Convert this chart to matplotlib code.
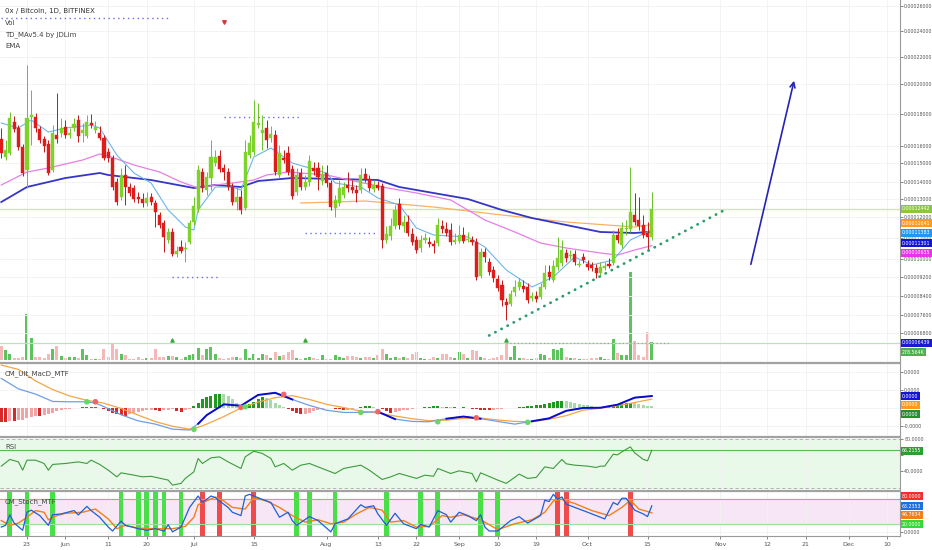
import numpy as np
import pandas as pd
import matplotlib
matplotlib.use("Agg")
import matplotlib.pyplot as plt
from matplotlib.lines import Line2D
from matplotlib import font_manager

# --- data: daily candles 0x/BTC (prices in satoshi, 1e-8 BTC) ---
START = pd.Timestamp("2018-05-17")

opens = [16438, 15353, 15588, 17500, 17125, 15941, 14632, 17812, 17812, 17062,
         16437, 16125, 14632, 16687, 16812, 17187, 16687, 17125, 17625, 16812,
         16625, 17437, 17000, 16812, 16500, 15647, 15294, 14000, 13118, 14368,
         13706, 13647, 13118, 13000, 12778, 13118, 12778, 12111, 11714, 10905,
         11286, 10238, 10571, 10476, 10810, 11762, 12444, 14526, 13530, 14210,
         15000, 15412, 14737, 14526, 13706, 12833, 13118, 12500, 15470, 15647,
         17312, 16812, 17125, 16500, 16687, 14368, 15294, 15588, 14684, 13412,
         14474, 13706, 14000, 14737, 14737, 14053, 14474, 13941, 12500, 12778,
         13235, 13824, 13706, 13530, 13530, 14421, 14158, 13588, 13824, 13765,
         10905, 11095, 11571, 12722, 11571, 11762, 11190, 10905, 10524, 10905,
         10810, 10714, 10762, 11571, 11429, 11381, 10810, 10857, 11143, 10905,
         10905, 10810, 9244, 10333, 9867, 9511, 9116, 8863, 8147, 8063,
         8568, 8779, 8821, 8779, 8316, 8400, 8358, 8779, 9422, 9074,
         9644, 9822, 10286, 10143, 10238, 9733, 10095, 9778, 9733, 9600,
         9378, 9600, 9778, 9822, 11143, 10667, 11429, 11429, 12111, 11857,
         11619, 11238, 11048]
highs = [17125, 16375, 18132, 17875, 17312, 16125, 21406, 19600, 18066, 17250,
         16625, 16375, 17312, 19400, 17750, 17625, 17125, 17750, 17937, 17437,
         17937, 18000, 17562, 17250, 16687, 15882, 15470, 14210, 14737, 14895,
         13941, 13824, 13412, 13353, 13412, 13353, 12944, 12278, 11857, 11476,
         11476, 10619, 10905, 10810, 11857, 13118, 14895, 14737, 14526, 16375,
         15765, 15765, 14947, 14737, 13941, 13706, 13530, 16375, 16687, 18930,
         18730, 17937, 17625, 17250, 17000, 16062, 15765, 16000, 14895, 14737,
         14737, 14368, 15470, 15059, 15059, 14895, 14895, 14105, 13235, 14105,
         14000, 14526, 14105, 13824, 14737, 14737, 14368, 14105, 14053, 13941,
         11571, 11952, 12667, 13059, 12111, 12111, 11476, 11095, 11143, 11238,
         11048, 10905, 11952, 11857, 11762, 11714, 11238, 11619, 11524, 11286,
         11095, 11000, 10524, 10524, 10048, 9689, 9289, 9074, 8316, 8653,
         9074, 9158, 9074, 8947, 8568, 8611, 8947, 9733, 9733, 9956,
         11048, 10905, 10476, 10429, 10429, 9956, 10286, 9956, 9867, 9778,
         9867, 9867, 10048, 11381, 11476, 11762, 11857, 14789, 13353, 13118,
         12111, 11762, 13412]
lows = [15294, 15176, 15470, 16875, 15765, 14316, 13647, 16062, 16875, 16187,
        15647, 14368, 14526, 16187, 16562, 16500, 16500, 16937, 16250, 16250,
        16500, 17125, 16812, 16375, 15176, 15059, 13530, 12667, 12944, 12667,
        13176, 12833, 12778, 12555, 12611, 12667, 11524, 11476, 10333, 10762,
        10143, 10095, 10286, 9867, 10714, 11619, 12278, 13412, 13235, 13530,
        14842, 14526, 14105, 13530, 12667, 12389, 12166, 12389, 15294, 15470,
        17125, 15765, 15882, 16250, 14368, 14210, 15000, 14368, 13000, 13235,
        13530, 13530, 13765, 14368, 13530, 13824, 13706, 12389, 12000, 12611,
        13059, 13412, 13353, 12833, 13353, 14000, 13471, 13412, 13530, 10524,
        10762, 10905, 11429, 11429, 11286, 11095, 10667, 10286, 10333, 10762,
        10571, 10286, 10619, 11238, 11095, 10667, 10714, 10762, 10762, 10810,
        10667, 9074, 9158, 9867, 9289, 8989, 8611, 7979, 7378, 7979,
        8400, 8653, 8568, 8105, 8189, 8147, 8274, 8695, 9074, 8989,
        9511, 9689, 9867, 10000, 9733, 9644, 9822, 9511, 9467, 9158,
        9244, 9511, 9600, 9733, 10762, 10524, 11143, 11286, 11619, 11381,
        11000, 10429, 10905]
closes = [15588, 15765, 17750, 17062, 15941, 14474, 17750, 17937, 17125, 16375,
          16000, 14474, 16812, 16437, 17125, 16687, 16812, 17375, 16625, 17000,
          17500, 17312, 17187, 16500, 15294, 15294, 13706, 12833, 14368, 13706,
          13353, 13000, 13000, 12778, 13059, 12833, 12278, 11619, 11048, 11286,
          10238, 10381, 10381, 10524, 11714, 12611, 14632, 13647, 14263, 15353,
          15353, 14684, 14526, 13706, 12833, 13118, 12389, 15647, 16187, 17500,
          17437, 17000, 16375, 16750, 14526, 15588, 15176, 14526, 13176, 14368,
          13706, 14000, 15118, 14579, 14263, 14421, 13941, 12555, 12944, 13647,
          13706, 13647, 13530, 13353, 14368, 14158, 13647, 13824, 13647, 10905,
          11190, 11571, 12389, 11619, 11762, 11238, 10810, 10429, 10905, 11000,
          10714, 10619, 11619, 11429, 11238, 10810, 10905, 11143, 10857, 10952,
          10810, 9200, 10333, 10095, 9422, 9158, 8737, 8232, 8021, 8484,
          8779, 8989, 8695, 8232, 8400, 8274, 8779, 9378, 9200, 9689,
          10048, 10429, 10048, 10190, 9867, 9778, 9956, 9644, 9600, 9378,
          9644, 9689, 9689, 11143, 10905, 11476, 11476, 12278, 11762, 11571,
          11143, 11048, 12442]
volumes_k = [225, 150, 100, 25, 25, 40, 725, 350, 50, 40,
             25, 100, 175, 225, 60, 25, 50, 40, 25, 175,
             75, 15, 15, 10, 175, 40, 275, 175, 100, 75,
             15, 10, 40, 15, 25, 25, 175, 50, 50, 60,
             60, 50, 15, 50, 75, 100, 190, 75, 175, 200,
             100, 25, 15, 25, 40, 50, 25, 175, 25, 90,
             25, 90, 75, 25, 125, 60, 75, 125, 150, 25,
             15, 25, 50, 25, 10, 75, 15, 15, 75, 50,
             25, 60, 60, 50, 25, 50, 40, 25, 75, 175,
             100, 25, 50, 25, 40, 25, 100, 125, 25, 15,
             15, 50, 25, 90, 90, 50, 25, 125, 100, 25,
             150, 140, 50, 25, 15, 25, 40, 75, 250, 50,
             225, 25, 25, 15, 15, 25, 100, 75, 25, 175,
             150, 190, 50, 25, 25, 15, 10, 10, 25, 25,
             40, 15, 15, 335, 110, 85, 75, 1392, 300, 75,
             40, 450, 279]

# moving averages (day index, satoshi)
ema_fast_days = [0, 4, 7, 11, 15, 21, 23, 27, 31, 35, 39, 43, 45, 46, 50, 54, 56, 59, 63, 66,
                 68, 76, 78, 84, 88, 93, 97, 101, 109, 113, 118, 124, 129, 134, 138, 143, 147, 152]
ema_fast = [17437, 17125, 17625, 16875, 17125, 17312, 17125, 15470, 14474, 13941, 12389, 11524,
            11381, 12389, 13706, 13706, 13530, 15353, 15882, 15353, 15000, 14474, 13941, 13706,
            13059, 12667, 11476, 11143, 11048, 10571, 9511, 8779, 9200, 10095, 9733, 9956, 10905, 11383]
ema_mid_days = [0, 6, 11, 19, 23, 25, 31, 37, 42, 46, 50, 54, 59, 62, 67, 76, 89, 97, 105, 113,
                120, 126, 132, 140, 144, 148, 152]
ema_mid = [13824, 14526, 14737, 15176, 15530, 15412, 14895, 14526, 14000, 13647, 13824, 13941,
           14105, 14368, 14526, 14368, 13706, 13353, 12944, 11857, 11286, 10762, 10524, 10286,
           10190, 10429, 10635]
ema_slow_days = [0, 6, 11, 15, 23, 25, 35, 45, 50, 56, 60, 68, 78, 88, 93, 101, 109, 117, 124,
                 132, 140, 148, 152]
ema_slow = [12833, 13706, 14000, 14210, 14474, 14368, 14105, 13647, 13824, 13706, 14053, 14210,
            14158, 14105, 13706, 13353, 13000, 12389, 11952, 11619, 11286, 11238, 11301]
ema_long_days = [70, 78, 85, 101, 117, 132, 148, 152]
ema_long = [12778, 12833, 12889, 12555, 12111, 11762, 11524, 11641]

last_price = 12442
support_level = 6439
td_levels = [(0, 39, 25040), (52, 70, 17812), (71, 88, 11238), (40, 51, 9200)]
trend_days = [114, 169]
trend_prices = [6710, 12389]
arrow_days = [175, 185.4]
arrow_prices = [9644, 20444]

# MACD (units of 1e-7 BTC)
macd_days = [0, 4, 8, 12, 16, 20, 22, 24, 28, 32, 36, 40, 44, 46, 48, 52, 56, 60, 64, 68, 72,
             76, 80, 84, 88, 92, 96, 100, 104, 108, 112, 116, 120, 124, 128, 132, 136, 140, 144, 148, 152]
macd_line = [162, 104, 75, 34, 32, 32, 25, 5, -40, -74, -92, -120, -125, -90, -42, 18, 10, 70, 82,
             45, 12, -15, -27, -27, -23, -64, -77, -79, -62, -50, -62, -77, -92, -76, -60, -18, -2,
             -1, 16, 55, 64]
macd_signal = [236, 212, 148, 100, 64, 40, 33, 24, -5, -42, -78, -104, -120, -110, -92, -50, -2,
               30, 55, 66, 45, 18, 0, -20, -30, -47, -62, -73, -70, -60, -58, -69, -77, -79, -65,
               -45, -14, -4, 10, 28, 47]
macd_hist = [-78, -78, -74, -74, -70, -67, -56, -52, -46, -46, -41, -37, -28, -19, -15, -9, -6,
             -4, 0, 1, 2, 4, 4, -4, -9, -19, -28, -33, -41, -46, -37, -28, -22, -19, -15,
             -11, -15, -19, -15, -11, -9, -19, -22, -15, -6, 9, 28, 46, 56, 65, 74, 78, 74,
             65, 46, 28, 9, 9, 19, 33, 46, 56, 52, 41, 28, 15, 4, -9, -19, -28, -37, -33, -28,
             -19, -11, -6, -4, -2, -6, -9, -15, -11, -7, -2, 4, 6, 6, 4, 0, -9, -19, -28, -22,
             -19, -15, -11, -7, -4, 0, 2, 4, 6, 6, 4, 4, 2, 2, 0, 1, -4, -6, -9, -11, -13, -15,
             -11, -9, -7, -4, -2, 0, 2, 4, 6, 9, 13, 17, 22, 28, 33, 39, 39, 35, 30, 26, 22, 17,
             13, 9, 4, 2, 2, 6, 13, 20, 24, 28, 28, 26, 22, 17, 11, 9]
cross_days = [20, 22, 45, 56, 57, 66, 84, 88, 102, 111, 123]
cross_vals = [32, 32, -121, 1, 4, 73, -27, -23, -79, -57, -82]
cross_up = [True, False, True, False, True, False, True, False, True, False, True]

# RSI
rsi_days = [0, 2, 4, 5, 6, 8, 10, 11, 12, 15, 18, 20, 21, 23, 25, 27, 28, 31, 33, 35, 39, 40, 42,
            43, 45, 46, 47, 49, 51, 53, 56, 57, 59, 61, 63, 64, 66, 68, 70, 72, 74, 78, 80, 84, 86,
            89, 91, 93, 97, 99, 101, 102, 105, 107, 110, 111, 112, 116, 118, 121, 123, 125, 127,
            129, 131, 132, 134, 137, 139, 140, 141, 143, 144, 145, 147, 148, 150, 151, 152]
rsi_vals = [46.6, 54.9, 51.9, 41.6, 54, 54, 49.9, 41.6, 48.7, 49.9, 51.9, 49.9, 54, 48.7, 41.6,
            33.3, 38.3, 35.4, 33.3, 34, 29.3, 23.1, 25.2, 31.4, 39.5, 56.1, 49.9, 56.9, 58.1, 51.9,
            43.7, 58.1, 65.1, 62.3, 56.1, 45.7, 49.9, 41.6, 47.8, 49.9, 45.7, 37.5, 43.7, 47.8, 41.6,
            30.1, 33.3, 37.5, 31.4, 35.4, 34, 43.7, 37.5, 40.8, 37.5, 27.2, 38.3, 29.3, 25.2, 36.7,
            31.4, 32.6, 45.7, 43.7, 54.9, 49.5, 47.8, 46.6, 45, 46.6, 46.6, 61.4, 60.6, 64.3, 70.5,
            63.1, 55, 53.2, 66.2155]

# Stochastic
stoch_k_days = [0, 1, 2, 3, 5, 6, 7, 9, 11, 12, 14, 17, 18, 20, 21, 23, 25, 26, 28, 29, 32, 34, 36,
                38, 39, 40, 42, 44, 46, 47, 49, 50, 51, 53, 54, 56, 57, 58, 60, 62, 63, 65, 67, 68,
                69, 72, 74, 77, 78, 81, 84, 85, 87, 88, 90, 92, 94, 97, 98, 100, 102, 104, 105, 107,
                109, 111, 112, 113, 114, 116, 119, 121, 123, 126, 127, 128, 129, 130, 131, 132, 134,
                137, 141, 143, 144, 145, 146, 148, 150, 151, 152]
stoch_k = [12.5, 16.5, 42, 22, 4.7, 48, 53, 40, 16.5, 42, 44, 52, 41.6, 62, 52, 36, 12.5, 3, 26.7,
           16.5, 8.6, 4.7, 8.6, 3, 18, 1, 12.5, 59.6, 87, 71.4, 87, 83, 75, 59.6, 48, 40, 87, 91,
           83, 75, 71.4, 36, 48, 28, 16.5, 37.6, 28, 1, 20.4, 32, 66, 59.6, 63.5, 44, 16.5, 45.5,
           20.4, 8.6, 18.8, 12.5, 52, 42, 24.3, 48, 40, 28, 42, 12.5, 3, 3, 28, 37.6, 22, 40, 77,
           73.7, 91, 79, 84.7, 67.5, 59.6, 48, 32, 71.4, 66, 81.6, 81.6, 53, 44, 37.6, 63.2353]
stoch_d_days = [0, 2, 4, 6, 8, 10, 11, 13, 15, 19, 22, 25, 27, 29, 32, 36, 40, 43, 45, 46, 50, 52,
                54, 57, 59, 62, 65, 68, 71, 74, 77, 80, 83, 86, 89, 91, 94, 97, 100, 103, 105, 108,
                112, 116, 120, 124, 127, 129, 131, 134, 138, 142, 145, 147, 149, 152]
stoch_d = [28, 16.5, 22, 36, 52, 48, 30, 40, 45.5, 48, 55.7, 32, 8.6, 16.5, 10, 8.6, 8.6, 14, 36,
           66, 84.7, 75, 59.6, 55.7, 83, 75, 59.6, 40, 24.3, 30, 20.4, 24.3, 44, 59.6, 53, 24.3,
           28, 12.5, 14, 40, 36, 42, 30, 6.3, 20.4, 30, 48, 75, 79, 69, 52, 40, 59.6, 77, 55.7,
           46.7634]
stoch_up_days = [2, 6, 12, 28, 32, 34, 36, 38, 42, 69, 72, 78, 90, 98, 102, 112, 116]
stoch_down_days = [47, 51, 59, 130, 132, 147]

tick_dates = ["2018-05-23", "2018-06-01", "2018-06-11", "2018-06-20", "2018-07-01", "2018-07-15",
              "2018-08-01", "2018-08-13", "2018-08-22", "2018-09-01", "2018-09-10", "2018-09-19",
              "2018-10-01", "2018-10-15", "2018-11-01", "2018-11-12", "2018-11-21", "2018-12-01",
              "2018-12-10"]
tick_labels = ["23", "Jun", "11", "20", "Jul", "15", "Aug", "13", "22", "Sep", "10", "19", "Oct",
               "15", "Nov", "12", "21", "Dec", "10"]
price_ticks = [26000, 24000, 22000, 20000, 18000, 16000, 15000, 14000, 13000, 12000, 11000, 10000,
               9200, 8400, 7600, 6800]

# --- price scale (TradingView spacing) ---
SCALE_P = np.array([5000, 6800, 7600, 8400, 9200, 10000, 12000, 13000, 14000, 15000, 16000, 18000,
                    20000, 22000, 24000, 26000, 30000], dtype=float)
SCALE_Y = np.array([383, 333, 315, 296, 277, 259, 217, 199, 182, 163, 146, 114, 84, 57, 31, 6, -40],
                   dtype=float)


def fwd(p):
    return -np.interp(p, SCALE_P, SCALE_Y)


def inv(v):
    return np.interp(-np.asarray(v), SCALE_Y[::-1], SCALE_P[::-1])


plt.rcParams["font.family"] = ["DejaVu Sans"]
# narrow face for the crowded right-hand scale, if the system has one
_names = {f.name for f in font_manager.fontManager.ttflist}
if "Liberation Sans Narrow" in _names:
    AXF, AXS = "Liberation Sans Narrow", 4.6
else:
    AXF, AXS = "DejaVu Sans", 3.4

W, H = 932, 550
fig = plt.figure(figsize=(W / 100, H / 100), dpi=100)


def pane(top, bottom):
    return fig.add_axes([0, 1 - bottom / H, 900 / W, (bottom - top) / H])


GRID = "#f1f1f1"
TXT = "#555555"
XLIM = (-0.3, 210)
days = np.arange(len(closes))
o, h, l, c = map(np.array, (opens, highs, lows, closes))
up = c >= o
tick_pos = (pd.to_datetime(tick_dates) - START).days.values


def style(ax, ticks, labels):
    ax.set_xlim(*XLIM)
    for s in ("top", "left", "bottom"):
        ax.spines[s].set_visible(False)
    ax.spines["right"].set_color("#9a9a9a")
    ax.yaxis.tick_right()
    ax.set_yticks(ticks)
    ax.set_yticklabels(labels, fontfamily=AXF)
    ax.tick_params(axis="y", labelsize=AXS, colors=TXT, length=2, pad=1, width=0.5)
    ax.set_xticks(tick_pos)
    ax.tick_params(axis="x", length=0, labelbottom=False)
    ax.grid(True, color=GRID, lw=0.6)
    ax.set_axisbelow(True)


# --- main price pane ---
ax = pane(0, 362)
ax_vol = ax.twinx()
ax.set_zorder(ax_vol.get_zorder() + 1)
ax.patch.set_visible(False)
ax.set_yscale("function", functions=(fwd, inv))
ax.set_ylim(inv(-362), inv(0))
style(ax, price_ticks, [f"{t * 1e-8:.8f}" for t in price_ticks])

vol_col = np.where(up, "#5cc45c", "#f5b8b8")
ax_vol.bar(days, volumes_k, width=0.7, color=vol_col, zorder=1)
ax_vol.set_ylim(-32, 5695)
ax_vol.set_yticks([])
for s in ax_vol.spines.values():
    s.set_visible(False)

ax.axhline(support_level, color="#b9e3b9", lw=0.9, zorder=1)
ax.hlines(support_level, 118, 156, color="#a0a0a0", lw=0.9, linestyles=(0, (1, 2)), zorder=1)
ax.axhline(last_price, color="#d3e8a8", lw=1.0, zorder=1)
for d0, d1, lvl in td_levels:
    ax.hlines(lvl, d0, d1, color="#6b6be6", lw=1.0, linestyles=(0, (1, 2.5)), zorder=2)

ax.plot(ema_long_days, ema_long, color="#f7b267", lw=0.9, zorder=2)
ax.plot(ema_slow_days, ema_slow, color="#3535c8", lw=1.3, zorder=2)
ax.plot(ema_mid_days, ema_mid, color="#e67ee6", lw=0.9, zorder=2)
ax.plot(ema_fast_days, ema_fast, color="#6cb6ea", lw=0.8, zorder=2)

body_col = np.where(up, "#7ed32a", "#e01b1b")
wick_col = np.where(up, "#6cbf2a", "#c01818")
ax.vlines(days, l, h, color=wick_col, lw=0.7, zorder=3)
body_h = np.maximum(np.abs(c - o), 25)
ax.bar(days, body_h, bottom=np.minimum(o, c), width=0.72, color=body_col,
       edgecolor=body_col, lw=0.3, zorder=4)

ax.plot(trend_days, trend_prices, color="#2a9d6a", lw=2.0, linestyle=(0, (0.1, 2.4)),
        dash_capstyle="round", zorder=5)
ax.annotate("", xy=(arrow_days[1], arrow_prices[1]), xytext=(arrow_days[0], arrow_prices[0]),
            arrowprops=dict(arrowstyle="->", color="#2424b4", lw=1.2, mutation_scale=9), zorder=5)
ax.scatter([40, 71, 118], [6560] * 3, marker="^", s=5, color="#3aa83a", zorder=5)
ax.scatter([52], [24720], marker="v", s=6, color="#e03030", zorder=5)

legend = [("0x / Bitcoin, 1D, BITFINEX", 11, "#333333"), ("Vol", 23, "#444444"),
          ("TD_MAv5.4 by JDLim", 35, "#444444"), ("EMA", 46, "#444444")]
for txt, yp, col in legend:
    fig.text(5 / W, 1 - yp / H, txt, fontsize=5, color=col, va="center", ha="left")

# --- MACD pane (zero label sits under the value badges) ---
axm = pane(364, 436)
axm.set_ylim(-158, 242)
style(axm, [200, 100, 0, -100], ["0.0000", "0.0000", "", "-0.0000"])
hist = np.array(macd_hist)
prev = np.r_[hist[0], hist[:-1]]
hcol = np.where(hist >= 0, np.where(hist >= prev, "#1f9a1f", "#a8daa8"),
                np.where(hist <= prev, "#d42a2a", "#f2a3a3"))
axm.bar(days, hist, width=0.7, color=hcol, zorder=2)
mline = np.array(macd_line, dtype=float)
msig = np.array(macd_signal, dtype=float)
rising = mline >= msig
rising_ext = rising | np.r_[False, rising[:-1]]
axm.plot(macd_days, msig, color="#f5a545", lw=0.9, zorder=3)
axm.plot(macd_days, mline, color="#6e9fe6", lw=0.9, zorder=3)
axm.plot(macd_days, np.where(rising_ext, mline, np.nan), color="#0b0bcc", lw=1.4, zorder=4)
axm.scatter(cross_days, cross_vals, s=9, zorder=5,
            color=["#66d866" if u else "#f06464" for u in cross_up])
fig.text(5 / W, 1 - 374 / H, "CM_Ult_MacD_MTF", fontsize=5, color="#444444", va="center")

# --- RSI pane ---
axr = pane(438, 490)
axr.set_ylim(17, 81.5)
style(axr, [80, 60, 40], ["80.0000", "", "40.0000"])
axr.axhspan(20, 80, color="#e9f9e9", zorder=0)
for lvl in (80, 20):
    axr.axhline(lvl, color="#a8a8a8", lw=0.6, linestyle=(0, (4, 3)), zorder=1)
axr.axhline(rsi_vals[-1], color="#5cb85c", lw=0.8, zorder=1)
axr.plot(rsi_days, rsi_vals, color="#3d9a3d", lw=0.8, zorder=3)
fig.text(5 / W, 1 - 447 / H, "RSI", fontsize=5, color="#444444", va="center")

# --- Stoch pane ---
axs = pane(491, 536)
axs.set_ylim(-9, 99)
style(axs, [0], ["0.0000"])
axs.axhspan(20, 80, color="#f6e6f6", zorder=0)
axs.bar(stoch_up_days, 108, bottom=-9, width=1.1, color="#47e047", zorder=1)
axs.bar(stoch_down_days, 108, bottom=-9, width=1.1, color="#f04a4a", zorder=1)
axs.axhline(80, color="#f08a8a", lw=0.8, zorder=2)
axs.axhline(20, color="#9ee09e", lw=0.8, zorder=2)
axs.plot(stoch_d_days, stoch_d, color="#f57f17", lw=1.0, zorder=3)
axs.plot(stoch_k_days, stoch_k, color="#1f5fd6", lw=0.9, zorder=4)
axs.spines["bottom"].set_visible(True)
axs.spines["bottom"].set_color("#9a9a9a")
axs.set_xticks(tick_pos)
axs.set_xticklabels(tick_labels)
axs.tick_params(axis="x", labelbottom=True, labelsize=4.5, colors=TXT, length=2, width=0.5, pad=2)
fig.text(5 / W, 1 - 502 / H, "CM_Stoch_MTF", fontsize=5, color="#444444", va="center")

# pane separators
for yp in (363, 437, 490.5):
    fig.add_artist(Line2D([0, 900 / W], [1 - yp / H] * 2, color="#a2a2a2", lw=1.6))

# value badges on the right scale
badges = [("0.00012442", 209, "#8cc63f"), ("0.00011641", 223, "#ff9a1f"),
          ("0.00011383", 233, "#2196f3"), ("0.00011301", 243, "#1414d6"),
          ("0.00010635", 253, "#e535e5"), ("0.00006439", 343, "#1a1ad4"),
          ("278.564K", 352, "#4caf50"), ("0.0000", 396, "#1414d6"), ("0.0000", 405, "#ff9a1f"),
          ("0.0000", 414, "#2e8b2e"), ("66.2155", 451, "#2e9e2e"), ("80.0000", 496, "#f03030"),
          ("63.2353", 506, "#1f6fe0"), ("46.7634", 515, "#f57f17"), ("20.0000", 524, "#36d936")]
for txt, yp, col in badges:
    fig.text(902 / W, 1 - yp / H, txt, fontsize=AXS, fontfamily=AXF, color="white",
             va="center", ha="left",
             bbox=dict(boxstyle="square,pad=0.25", fc=col, ec="none"))

fig.savefig("out.png", dpi=100, facecolor="white")
